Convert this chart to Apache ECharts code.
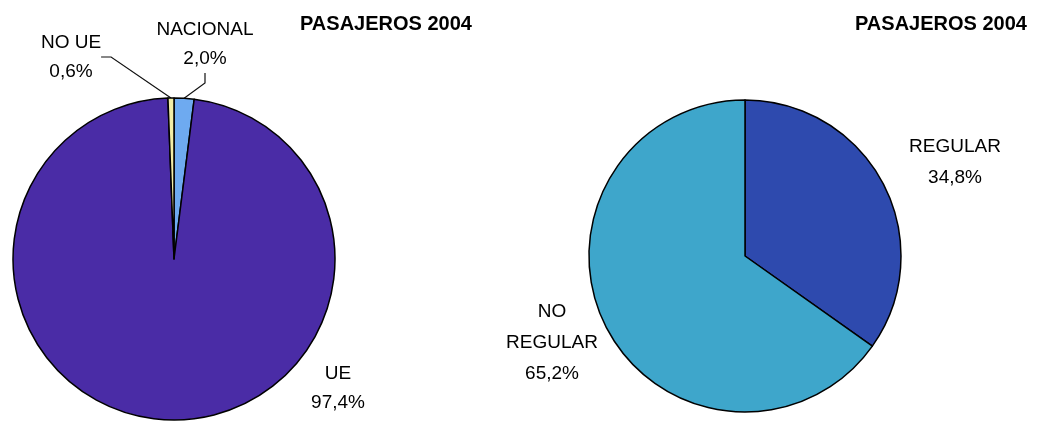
<!DOCTYPE html>
<html>
<head>
<meta charset="utf-8">
<script src="https://cdn.jsdelivr.net/npm/echarts@6/dist/echarts.min.js"></script>
<style>html,body{margin:0;padding:0;background:#fff}#c{width:1040px;height:422px}</style>
</head>
<body>
<div id="c"></div>
<script>
var titleText = 'PASAJEROS 2004';
var leftNames = ['NACIONAL', 'UE', 'NO UE'];
var leftValues = [2.0, 97.4, 0.6];
var rightNames = ['REGULAR', 'NO REGULAR'];
var rightValues = [34.8, 65.2];
var rightLabelNames = ['REGULAR', 'NO\nREGULAR'];

var leftColors = ['#6eaaf0', '#4a2ca6', '#f2eda6'];
var rightColors = ['#2e4aae', '#3ea6cb'];
// label anchor positions (pixels)
var leftLabelPos = [[205, 44], [338, 388], [71, 57]];
var rightLabelPos = [[955, 162], [552, 343]];

function fmt(p) {
  return p.data.labelName + '\n' + p.value.toFixed(1).replace('.', ',') + '%';
}

var chart = echarts.init(document.getElementById('c'));
chart.setOption({
  backgroundColor: '#fff',
  animation: false,
  title: [
    { text: titleText, left: 295, top: 9, textStyle: { fontFamily: 'Liberation Sans', fontWeight: 'bold', fontSize: 20, color: '#000' } },
    { text: titleText, left: 850, top: 9, textStyle: { fontFamily: 'Liberation Sans', fontWeight: 'bold', fontSize: 20, color: '#000' } }
  ],
  series: [
    {
      type: 'pie',
      center: [174, 259],
      radius: 161,
      startAngle: 90,
      clockwise: true,
      data: leftNames.map(function (n, i) {
        return {
          name: n, value: leftValues[i], labelName: n,
          itemStyle: { color: leftColors[i] },
          labelLine: { show: n !== 'UE' }
        };
      }),
      itemStyle: { borderColor: '#000', borderWidth: 1.5 },
      label: {
        show: true, formatter: fmt, fontFamily: 'Liberation Sans', fontSize: 19,
        lineHeight: 29, color: '#000', align: 'center'
      },
      labelLine: { show: true, lineStyle: { color: '#111', width: 1.2 }, length: 10, length2: 10 },
      labelLayout: function (params) {
        var p = leftLabelPos[params.dataIndex];
        return { x: p[0], y: p[1], align: 'center', verticalAlign: 'middle' };
      },
      emphasis: { disabled: true }
    },
    {
      type: 'pie',
      center: [745, 256],
      radius: 156,
      startAngle: 90,
      clockwise: true,
      data: rightNames.map(function (n, i) {
        return {
          name: n, value: rightValues[i], labelName: rightLabelNames[i],
          itemStyle: { color: rightColors[i] }
        };
      }),
      itemStyle: { borderColor: '#000', borderWidth: 1.5 },
      label: {
        show: true, formatter: fmt, fontFamily: 'Liberation Sans', fontSize: 19,
        lineHeight: 31, color: '#000', align: 'center'
      },
      labelLine: { show: false },
      labelLayout: function (params) {
        var p = rightLabelPos[params.dataIndex];
        return { x: p[0], y: p[1], align: 'center', verticalAlign: 'middle' };
      },
      emphasis: { disabled: true }
    }
  ]
});
</script>
</body>
</html>
